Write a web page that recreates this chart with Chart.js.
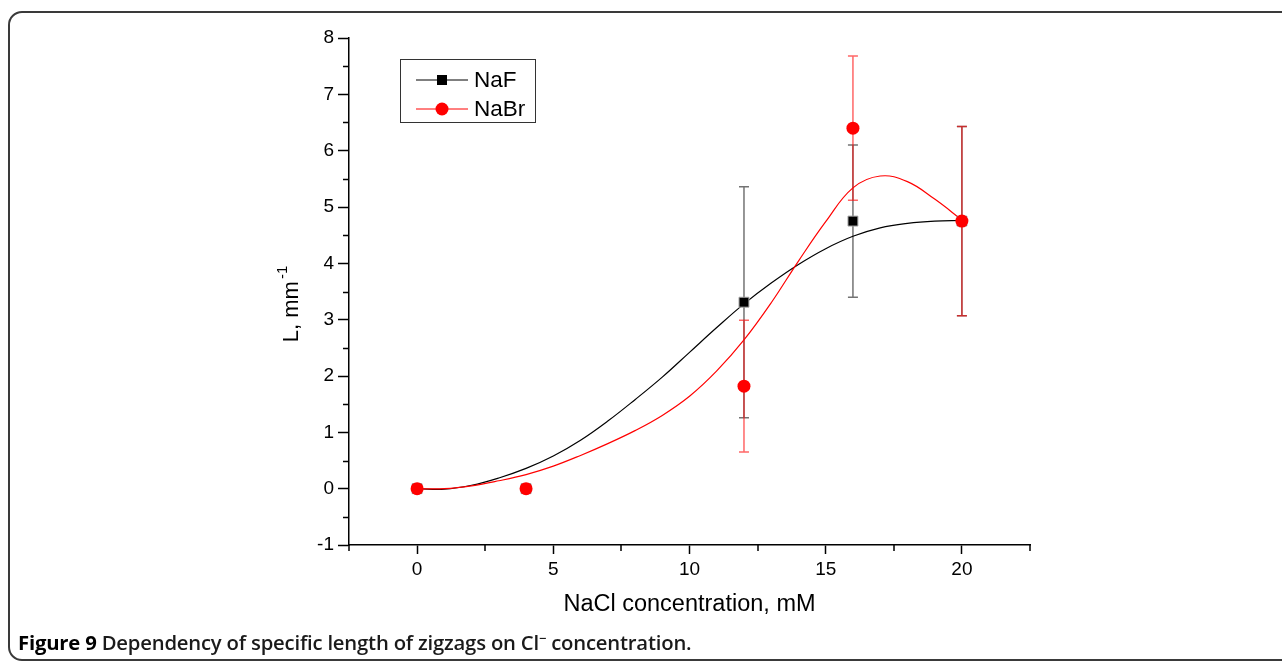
<!DOCTYPE html>
<html>
<head>
<meta charset="utf-8">
<script src="https://cdn.jsdelivr.net/npm/chart.js@4.4.0/dist/chart.umd.min.js"></script>
<style>
  html, body { margin: 0; padding: 0; background: #fff; }
  #wrap { position: relative; width: 1282px; height: 662px; overflow: hidden; background: #fff; }
  #c { position: absolute; left: 0; top: 0; }
  #frame { position: absolute; left: 8px; top: 11px; width: 1320px; height: 650px; border: 2px solid #3a3a3a; border-radius: 14px; box-sizing: border-box; pointer-events: none; }
  #caption { position: absolute; left: 18px; top: 629px; font-family: "Open Sans", sans-serif; font-size: 20.3px; line-height: 27px; font-weight: 600; color: #1a1a1a; white-space: nowrap; letter-spacing: -0.2px; }
  #caption b { font-weight: 700; color: #000; }
  #caption sup { font-size: 13px; vertical-align: 7px; line-height: 0; }
</style>
</head>
<body>
<div id="wrap">
  <canvas id="c" width="1282" height="662"></canvas>
  <div id="frame"></div>
  <div id="caption"><b>Figure 9</b> Dependency of specific length of zigzags on Cl<sup>−</sup> concentration.</div>
</div>
<script>
// ---- data ----
const concentrations = [0, 4, 12, 16, 20];
const nafValues  = [0, 0, 3.31, 4.75, 4.75];
const nafErrors  = [0, 0, 2.05, 1.35, 1.68];
const nabrValues = [0, 0, 1.82, 6.40, 4.75];
const nabrErrors = [0, 0, 1.17, 1.28, 1.68];

// fitted curves
const fitX     = [0, 1, 2, 3, 4, 5, 6, 7, 8, 9, 10, 11, 12, 13, 14, 15, 16, 17, 18, 19, 20];
const nafFit   = [0, -0.01, 0.06, 0.19, 0.36, 0.58, 0.86, 1.2, 1.58, 1.98, 2.42, 2.86, 3.28, 3.65, 3.98, 4.26, 4.48, 4.63, 4.71, 4.75, 4.76];
const nabrFit  = [0, 0, 0.05, 0.14, 0.25, 0.4, 0.59, 0.8, 1.03, 1.3, 1.64, 2.09, 2.64, 3.3, 4.04, 4.74, 5.34, 5.55, 5.45, 5.14, 4.77];

const xTicksMajor = [0, 5, 10, 15, 20];
const seriesNames = ['NaF', 'NaBr'];
const xTitle = 'NaCl concentration, mM';
const yTitleMain = 'L, mm';
const yTitleSup = '-1';

const toPts = (xs, ys) => xs.map((x, i) => ({ x: x, y: ys[i] }));

const FONT = '"Liberation Sans", Arial, sans-serif';

const errorBarsPlugin = {
  id: 'errorBars',
  beforeDatasetsDraw(chart) {
    const { ctx } = chart;
    const xs = chart.scales.x, ys = chart.scales.y;
    const sets = [
      { vals: nafValues, errs: nafErrors, color: 'rgba(0,0,0,0.55)' },
      { vals: nabrValues, errs: nabrErrors, color: 'rgba(255,0,0,0.6)' }
    ];
    ctx.save();
    ctx.lineWidth = 1.5;
    sets.forEach(s => {
      ctx.strokeStyle = s.color;
      concentrations.forEach((c, i) => {
        if (!s.errs[i]) return;
        const px = xs.getPixelForValue(c);
        const top = ys.getPixelForValue(s.vals[i] + s.errs[i]);
        const bot = ys.getPixelForValue(s.vals[i] - s.errs[i]);
        ctx.beginPath();
        ctx.moveTo(px, top); ctx.lineTo(px, bot);
        ctx.moveTo(px - 5, top); ctx.lineTo(px + 5, top);
        ctx.moveTo(px - 5, bot); ctx.lineTo(px + 5, bot);
        ctx.stroke();
      });
    });
    ctx.restore();
  }
};

const decorPlugin = {
  id: 'decor',
  afterDraw(chart) {
    const { ctx, chartArea } = chart;
    const xs = chart.scales.x, ys = chart.scales.y;
    ctx.save();
    // minor ticks
    ctx.strokeStyle = '#000';
    ctx.lineWidth = 1.5;
    ctx.beginPath();
    for (let v = -0.5; v <= 7.5; v += 1) {
      const py = Math.round(ys.getPixelForValue(v)) + 0.5;
      ctx.moveTo(chartArea.left, py); ctx.lineTo(chartArea.left - 6, py);
    }
    for (let v = -2.5; v <= 22.5; v += 5) {
      const px = Math.round(xs.getPixelForValue(v));
      ctx.moveTo(px, chartArea.bottom); ctx.lineTo(px, chartArea.bottom + 6);
    }
    ctx.stroke();

    // y title
    ctx.fillStyle = '#000';
    ctx.translate(292, 304);
    ctx.rotate(-Math.PI / 2);
    ctx.font = '22px ' + FONT;
    const w1 = ctx.measureText(yTitleMain).width;
    ctx.font = '15px ' + FONT;
    const w2 = ctx.measureText(yTitleSup).width;
    const start = -(w1 + w2 + 2) / 2;
    ctx.textBaseline = 'middle';
    ctx.textAlign = 'left';
    ctx.font = '22px ' + FONT;
    ctx.fillText(yTitleMain, start, 0);
    ctx.font = '15px ' + FONT;
    ctx.fillText(yTitleSup, start + w1 + 2, -9);
    ctx.setTransform(1, 0, 0, 1, 0, 0);

    // legend
    const bx = 400.5, by = 59.5, bw = 135, bh = 63;
    ctx.strokeStyle = '#333';
    ctx.lineWidth = 1;
    ctx.strokeRect(bx, by, bw, bh);
    const entries = [
      { name: seriesNames[0], color: '#000', marker: 'rect', y: 80 },
      { name: seriesNames[1], color: '#ff0000', marker: 'circle', y: 109 }
    ];
    entries.forEach(e => {
      ctx.strokeStyle = e.color;
      ctx.lineWidth = 1;
      ctx.beginPath();
      ctx.moveTo(416, e.y); ctx.lineTo(468, e.y);
      ctx.stroke();
      ctx.fillStyle = e.color;
      if (e.marker === 'rect') {
        ctx.fillRect(437, e.y - 5, 10, 10);
      } else {
        ctx.beginPath(); ctx.arc(442, e.y, 6.5, 0, Math.PI * 2); ctx.fill();
      }
      ctx.fillStyle = '#000';
      ctx.font = '22.5px ' + FONT;
      ctx.textBaseline = 'middle';
      ctx.textAlign = 'left';
      ctx.fillText(e.name, 474, e.y + 1);
    });
    ctx.restore();
  }
};

new Chart(document.getElementById('c'), {
  type: 'scatter',
  data: {
    datasets: [
      {
        label: seriesNames[1],
        data: toPts(concentrations, nabrValues),
        showLine: false,
        pointStyle: 'circle',
        pointRadius: 6.5,
        pointBackgroundColor: '#ff0000',
        pointBorderColor: '#ff0000',
        pointBorderWidth: 0,
        order: 0
      },
      {
        label: seriesNames[0],
        data: toPts(concentrations, nafValues),
        showLine: false,
        pointStyle: 'rect',
        pointRadius: 7,
        pointBackgroundColor: '#000',
        pointBorderColor: '#a0a0a0',
        pointBorderWidth: 1,
        order: 1
      },
      {
        label: seriesNames[1] + ' fit',
        data: toPts(fitX, nabrFit),
        showLine: true,
        borderColor: '#ff0000',
        borderWidth: 1.2,
        pointRadius: 0,
        tension: 0.4,
        order: 2
      },
      {
        label: seriesNames[0] + ' fit',
        data: toPts(fitX, nafFit),
        showLine: true,
        borderColor: '#000',
        borderWidth: 1.2,
        pointRadius: 0,
        tension: 0.4,
        order: 3
      }
    ]
  },
  options: {
    responsive: false,
    animation: false,
    events: [],
    layout: { padding: { left: 277, right: 252, top: 38, bottom: 43 } },
    plugins: { legend: { display: false }, tooltip: { enabled: false } },
    scales: {
      x: {
        type: 'linear',
        min: -2.5, max: 22.5,
        afterFit(s) { s.height = 74; },
        afterBuildTicks(s) { s.ticks = xTicksMajor.map(v => ({ value: v })); },
        border: { display: true, color: '#000', width: 1.5 },
        grid: { drawOnChartArea: false, drawTicks: true, tickLength: 9, tickColor: '#000', tickWidth: 1.5 },
        ticks: { color: '#000', font: { family: FONT, size: 19 }, padding: 4 },
        title: { display: true, text: xTitle, color: '#000', font: { family: FONT, size: 23.5 }, padding: 0 }
      },
      y: {
        type: 'linear',
        min: -1, max: 8,
        afterFit(s) { s.width = 72; },
        border: { display: true, color: '#000', width: 1.5 },
        grid: { drawOnChartArea: false, drawTicks: true, tickLength: 11, tickColor: '#000', tickWidth: 1.5 },
        ticks: { stepSize: 1, color: '#000', font: { family: FONT, size: 19 }, padding: 4 }
      }
    }
  },
  plugins: [errorBarsPlugin, decorPlugin]
});
</script>
</body>
</html>
